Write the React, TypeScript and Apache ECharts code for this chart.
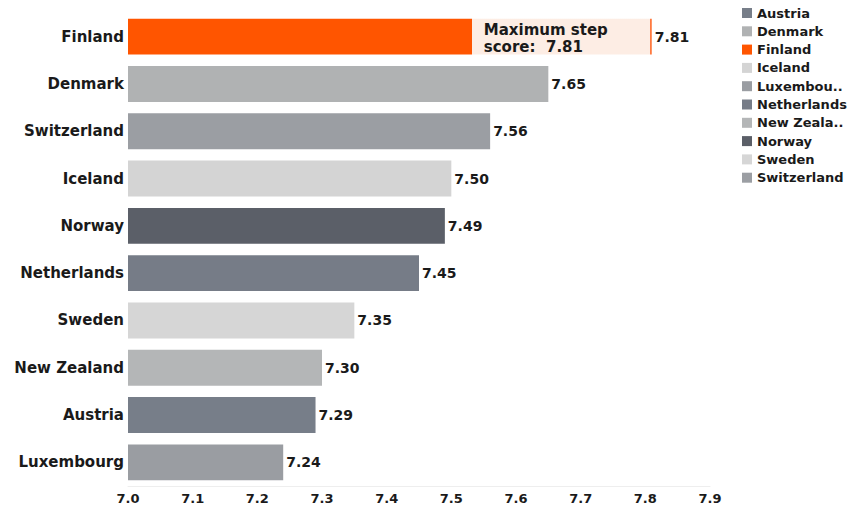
import React, { useEffect, useRef } from "react";
import * as echarts from "echarts";

const countries = ["Finland", "Denmark", "Switzerland", "Iceland", "Norway", "Netherlands", "Sweden", "New Zealand", "Austria", "Luxembourg"];
const scores = [7.81, 7.65, 7.56, 7.5, 7.49, 7.45, 7.35, 7.3, 7.29, 7.24];
const legendOrder = ["Austria", "Denmark", "Finland", "Iceland", "Luxembourg", "Netherlands", "New Zealand", "Norway", "Sweden", "Switzerland"];
const legendShort: Record<string, string> = { Luxembourg: "Luxembou..", "New Zealand": "New Zeala.." };
const colors: Record<string, string> = {
  Austria: "#777E89",
  Denmark: "#B0B2B3",
  Finland: "#FF5500",
  Iceland: "#D4D4D4",
  Luxembourg: "#9A9DA2",
  Netherlands: "#767C87",
  "New Zealand": "#B4B6B7",
  Norway: "#5B5F68",
  Sweden: "#D6D6D6",
  Switzerland: "#9B9EA3",
};
const xTicks = { min: 7.0, max: 7.9, interval: 0.1 };
const annotationStart = 7.532;
const annotationText = "Maximum step\nscore:  7.81";

const FONT = "'DejaVu Sans', 'Open Sans', sans-serif";
const INK = "#1a1a1a";

export default function App() {
  const ref = useRef<HTMLDivElement>(null);
  useEffect(() => {
    if (!ref.current) return;
    const chart = echarts.init(ref.current, undefined, { renderer: "svg" });
    const maxIdx = scores.indexOf(Math.max(...scores));
    const maxVal = scores[maxIdx];
    const frac = (annotationStart - xTicks.min) / (maxVal - xTicks.min);
    const series = legendOrder.map((name) => {
      const idx = countries.indexOf(name);
      const isMax = idx === maxIdx;
      const data = countries.map((c, i) => {
        if (i !== idx) return null;
        if (!isMax) return scores[i];
        return {
          value: scores[i],
          itemStyle: {
            color: new echarts.graphic.LinearGradient(0, 0, 1, 0, [
              { offset: 0, color: "#FF5500" },
              { offset: frac, color: "#FF5500" },
              { offset: frac, color: "#FDEDE4" },
              { offset: 0.996, color: "#FDEDE4" },
              { offset: 0.996, color: "#FF7A40" },
              { offset: 1, color: "#FF7A40" },
            ]),
          },
        };
      });
      const s: any = {
        name,
        type: "bar",
        stack: "total",
        barCategoryGap: "24%",
        data,
        itemStyle: { color: colors[name] },
        label: {
          show: true,
          position: "right",
          distance: 3,
          fontFamily: FONT,
          fontWeight: "bold",
          fontSize: 14,
          color: INK,
          formatter: (p: any) => p.value.toFixed(2),
        },
      };
      if (isMax) {
        s.markPoint = {
          symbol: "circle",
          symbolSize: 0,
          data: [{ coord: [maxVal, countries[maxIdx]] }],
          label: {
            show: true,
            position: [-168, -15],
            align: "left",
            verticalAlign: "top",
            formatter: annotationText,
            fontFamily: FONT,
            fontWeight: "bold",
            fontSize: 15,
            lineHeight: 17,
            color: INK,
          },
        };
      }
      return s;
    });
    chart.setOption({
      animation: false,
      textStyle: { fontFamily: FONT },
      grid: { left: 128, right: 140, top: 13, bottom: 24, containLabel: false },
      legend: {
        orient: "vertical",
        left: 742,
        top: 6,
        padding: 0,
        icon: "rect",
        itemWidth: 10,
        itemHeight: 10,
        itemGap: 4.3,
        data: legendOrder,
        formatter: (n: string) => legendShort[n] || n,
        textStyle: { fontFamily: FONT, fontWeight: "bold", fontSize: 13, lineHeight: 14, color: INK },
        selectedMode: false,
      },
      xAxis: {
        type: "value",
        min: xTicks.min,
        max: xTicks.max,
        interval: xTicks.interval,
        axisLine: { show: true, lineStyle: { color: "#EEEEEE" } },
        axisTick: { show: false },
        splitLine: { show: false },
        axisLabel: {
          fontFamily: FONT,
          fontWeight: "bold",
          fontSize: 13,
          color: INK,
          margin: 6,
          formatter: (v: number) => v.toFixed(1),
        },
      },
      yAxis: {
        type: "category",
        data: countries,
        inverse: true,
        axisLine: { show: false },
        axisTick: { show: false },
        axisLabel: { fontFamily: FONT, fontWeight: "bold", fontSize: 15, color: INK, margin: 4 },
      },
      series,
    });
    return () => chart.dispose();
  }, []);
  return <div ref={ref} style={{ position: "absolute", left: 0, top: 0, width: 850, height: 510 }} />;
}
